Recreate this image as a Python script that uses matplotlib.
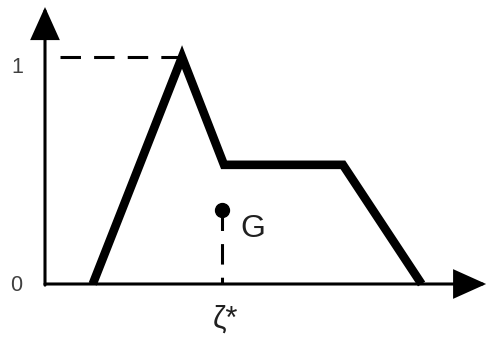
import matplotlib
matplotlib.use("Agg")
import matplotlib.pyplot as plt
from matplotlib.patches import ArrowStyle

# membership function (trapezoid-like fuzzy set)
mf_x = [1.08, 3.1, 4.05, 6.74, 8.52]
mf_y = [0.0, 1.0, 0.525, 0.525, 0.0]
# point G and its abscissa zeta*
g_x = 4.0
g_y = 0.327
y_ticks = [0, 1]
y_tick_labels = ["0", "1"]

fig = plt.figure(figsize=(4.87, 3.37), dpi=100)
ax = fig.add_axes([0, 0, 1, 1])
ax.set_xlim(-45 / 44.2, 442 / 44.2)
ax.set_ylim(-(337 - 284) / 227, 284 / 227)
ax.axis("off")

font = ["Liberation Sans", "DejaVu Sans"]
axis_lw = 2.2
astyle = ArrowStyle("-|>", head_length=1.0, head_width=0.45)

# x axis
ax.annotate("", xy=(9.98, 0), xytext=(0, 0),
            arrowprops=dict(arrowstyle=astyle, mutation_scale=20, lw=axis_lw,
                            color="black", shrinkA=0, shrinkB=0, joinstyle="miter"))
# y axis
ax.annotate("", xy=(0, 1.22), xytext=(0, -0.005),
            arrowprops=dict(arrowstyle=astyle, mutation_scale=20, lw=axis_lw,
                            color="black", shrinkA=0, shrinkB=0, joinstyle="miter"))

# dashed line at level 1
ax.plot([0.34, mf_x[1]], [1, 1], color="black", lw=axis_lw,
        dashes=(6.7, 4.3), solid_capstyle="butt", dash_capstyle="butt")

# membership function
ax.plot(mf_x, mf_y, color="black", lw=6.2, solid_joinstyle="miter",
        solid_capstyle="butt")

# G point with dashed drop line
ax.plot([g_x, g_x], [g_y, 0], color="black", lw=axis_lw,
        dashes=(6.7, 4.3), dash_capstyle="butt")
ax.plot([g_x], [g_y], "o", color="black", markersize=10)

# tick labels
for v, lab in zip(y_ticks, y_tick_labels):
    ax.text(-0.63 if v == 1 else -0.66, v - 0.045 if v == 1 else -0.005, lab,
            fontsize=15.5, color="#404040", family=font, ha="center", va="center")

ax.text(4.7, 0.242, "G", fontsize=23, color="#202020", family=font,
        ha="center", va="center")
ax.text(4.08, -0.19, "ζ*", fontsize=22, color="#202020", family=font,
        ha="center", va="baseline")

fig.savefig("out.png", dpi=100)
